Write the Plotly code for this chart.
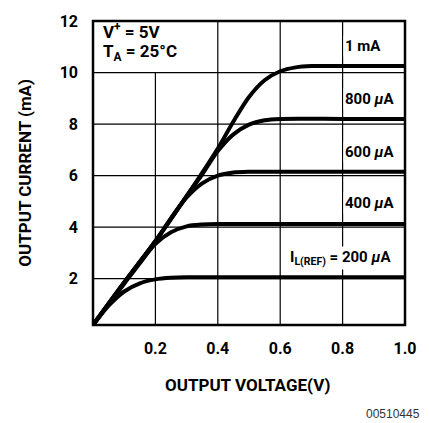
import plotly.graph_objects as go

# ---- data ----
v_200 = [0.0, 0.05, 0.1, 0.15, 0.2, 0.25, 0.3, 0.4, 0.6, 0.8, 1.0]
i_200 = [0.2, 0.95, 1.5, 1.82, 1.97, 2.03, 2.05, 2.05, 2.05, 2.05, 2.05]

v_400 = [0.0, 0.05, 0.1, 0.15, 0.2, 0.25, 0.3, 0.35, 0.4, 0.6, 0.8, 1.0]
i_400 = [0.2, 1.0, 1.8, 2.6, 3.35, 3.8, 4.03, 4.1, 4.12, 4.12, 4.12, 4.12]

v_600 = [0.0, 0.1, 0.2, 0.25, 0.3, 0.35, 0.4, 0.45, 0.5, 0.6, 0.8, 1.0]
i_600 = [0.2, 1.85, 3.45, 4.35, 5.15, 5.7, 6.0, 6.12, 6.15, 6.15, 6.15, 6.15]

v_800 = [0.0, 0.1, 0.2, 0.3, 0.35, 0.4, 0.45, 0.5, 0.55, 0.6, 0.8, 1.0]
i_800 = [0.2, 1.85, 3.45, 5.2, 6.05, 6.95, 7.6, 7.98, 8.15, 8.2, 8.2, 8.2]

v_1m = [0.0, 0.1, 0.2, 0.3, 0.4, 0.45, 0.5, 0.55, 0.6, 0.65, 0.7, 0.8, 1.0]
i_1m = [0.2, 1.85, 3.45, 5.2, 7.05, 8.1, 9.05, 9.7, 10.05, 10.2, 10.25, 10.25, 10.25]

series = [(v_200, i_200), (v_400, i_400), (v_600, i_600), (v_800, i_800), (v_1m, i_1m)]

x_ticks = [0.2, 0.4, 0.6, 0.8, 1.0]
x_tick_text = ["0.2", "0.4", "0.6", "0.8", "1.0"]
y_ticks = [2, 4, 6, 8, 10, 12]
y_tick_text = ["2", "4", "6", "8", "10", "12"]

curve_labels = ["I<sub>L(REF)</sub> = 200 <i>μ</i>A", "400 <i>μ</i>A", "600 <i>μ</i>A",
                "800 <i>μ</i>A", "1 mA"]
label_y = [2.82, 4.93, 6.93, 8.98, 11.03]

FONT = "Roboto, Liberation Sans Narrow, Arial Narrow, sans-serif"

fig = go.Figure()
for v, i in series:
    fig.add_trace(go.Scatter(x=v, y=i, mode="lines", line=dict(color="black", width=4, shape="spline", smoothing=0.8),
                             hoverinfo="skip", showlegend=False))

# gridlines
shapes = []
for xv in x_ticks[:-1]:
    y1 = 10 if xv == 0.2 else 12
    shapes.append(dict(type="line", xref="x", yref="y", x0=xv, x1=xv, y0=0.2, y1=y1,
                       line=dict(color="black", width=1.2), layer="below"))
for yv in y_ticks[:-1]:
    shapes.append(dict(type="line", xref="x", yref="y", x0=0, x1=1, y0=yv, y1=yv,
                       line=dict(color="black", width=1.2), layer="below"))
shapes.append(dict(type="rect", xref="paper", yref="paper", x0=0, x1=1, y0=0, y1=1,
                   line=dict(color="black", width=2.5)))

annotations = []
for k, (txt, yy) in enumerate(zip(curve_labels, label_y)):
    if k == 0:
        annotations.append(dict(x=0.96, y=yy, xref="x", yref="y", text=txt, showarrow=False,
                                xanchor="right", yanchor="middle", bgcolor="white",
                                font=dict(family=FONT, size=15, color="black", weight="bold")))
    else:
        annotations.append(dict(x=0.8, y=yy, xref="x", yref="y", text=txt, showarrow=False,
                                xanchor="left", yanchor="middle", bgcolor="white",
                                font=dict(family=FONT, size=15, color="black", weight="bold")))

annotations.append(dict(x=0.025, y=11.6, xref="x", yref="y", text="V<sup>+</sup> = 5V", showarrow=False,
                        xanchor="left", yanchor="middle",
                        font=dict(family=FONT, size=17, color="black", weight="bold")))
annotations.append(dict(x=0.025, y=10.78, xref="x", yref="y", text="T<sub>A</sub> = 25°C", showarrow=False,
                        xanchor="left", yanchor="middle",
                        font=dict(family=FONT, size=17, color="black", weight="bold")))

annotations.append(dict(x=248, y=423 - 386, xref="paper", yref="paper", text="OUTPUT VOLTAGE(V)",
                        showarrow=False, xanchor="center", yanchor="middle",
                        font=dict(family=FONT, size=17, color="black", weight="bold")))
annotations.append(dict(x=24, y=423 - 169, xref="paper", yref="paper", text="OUTPUT CURRENT (mA)",
                        showarrow=False, xanchor="center", yanchor="middle", textangle=-90,
                        font=dict(family=FONT, size=17, color="black", weight="bold")))
annotations.append(dict(x=423, y=423 - 416, xref="paper", yref="paper", text="00510445",
                        showarrow=False, xanchor="right", yanchor="middle",
                        font=dict(family="Liberation Sans, Arial, sans-serif", size=12, color="#333")))

# convert pixel-positioned annotations to paper coordinates
L, R, T, B = 93, 23, 14, 98
pw, ph = 429 - L - R, 423 - T - B
for a in annotations[-3:]:
    a["x"] = (a["x"] - L) / pw
    a["y"] = (a["y"] - B) / ph

fig.update_layout(
    width=429, height=423,
    margin=dict(l=L, r=R, t=T, b=B),
    paper_bgcolor="white", plot_bgcolor="white",
    shapes=shapes, annotations=annotations,
    xaxis=dict(range=[0, 1], tickvals=x_ticks, ticktext=x_tick_text, showgrid=False, zeroline=False,
               showline=False, ticks="", ticklabelstandoff=12,
               tickfont=dict(family=FONT, size=16, color="black", weight="bold")),
    yaxis=dict(range=[0.2, 12], tickvals=y_ticks, ticktext=y_tick_text, showgrid=False, zeroline=False,
               showline=False, ticks="", ticklabelstandoff=14,
               tickfont=dict(family=FONT, size=16, color="black", weight="bold")),
)

fig.write_html("out.html", config={"displayModeBar": False},
               post_script="document.body.style.margin='0';document.body.style.overflow='hidden';")
